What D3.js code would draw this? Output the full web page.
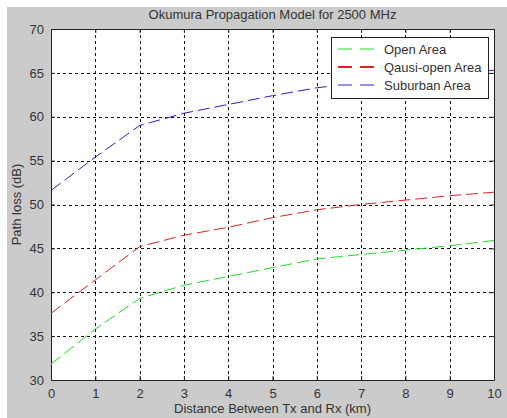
<!DOCTYPE html>
<html>
<head>
<meta charset="utf-8">
<script src="https://cdn.jsdelivr.net/npm/d3@7"></script>
<style>
body{margin:0;background:#fff;}
text{font-family:"Liberation Sans",Arial,sans-serif;}
</style>
</head>
<body>
<div id="chart"></div>
<script>
var W = 507, H = 418;
var margin = {t:29,l:51,b:38,r:13};
var width = W-margin.l-margin.r,
    height = H-margin.t-margin.b;

// data
var distance = [0,1,2,3,4,5,6,7,8,9,10];
var openArea = [31.8,35.8,39.3,40.8,41.8,42.8,43.8,44.3,44.8,45.3,45.9];
var quasiOpen = [37.6,41.4,45.2,46.5,47.4,48.5,49.4,50.0,50.5,51.0,51.4];
var suburban = [51.6,55.4,59.0,60.4,61.4,62.4,63.3,63.9,64.5,64.9,65.3];
var seriesNames = ["Open Area","Qausi-open Area","Suburban Area"];
var seriesColors = ["#22dd22","#dd2222","#2222cc"];
var xTicks = [0,1,2,3,4,5,6,7,8,9,10];
var yTicks = [30,35,40,45,50,55,60,65,70];

var svg = d3.select("#chart").append("svg")
    .attr("width",W).attr("height",H);

svg.append("rect")
    .attr("x",7).attr("y",7)
    .attr("width",W-7).attr("height",H-7)
    .attr("fill","#cbcbcb");

var x = d3.scaleLinear().domain([0,10]).range([0,width]);
var y = d3.scaleLinear().domain([30,70]).range([height,0]);

var g = svg.append("g")
    .attr("transform","translate("+margin.l+","+margin.t+")");

g.append("rect")
    .attr("width",width).attr("height",height)
    .attr("fill","#fff");

// grid
g.selectAll(".vgrid").data(xTicks.slice(1,-1)).enter().append("line")
    .attr("x1",function(d){return Math.round(x(d))+0.5;})
    .attr("x2",function(d){return Math.round(x(d))+0.5;})
    .attr("y1",0).attr("y2",height)
    .attr("stroke","#111").attr("stroke-dasharray","3,3");
g.selectAll(".hgrid").data(yTicks.slice(1,-1)).enter().append("line")
    .attr("y1",function(d){return Math.round(y(d))+0.5;})
    .attr("y2",function(d){return Math.round(y(d))+0.5;})
    .attr("x1",0).attr("x2",width)
    .attr("stroke","#111").attr("stroke-dasharray","3,3");

// axes
g.append("g")
    .attr("transform","translate(0,"+height+")")
    .call(d3.axisBottom(x).tickValues(xTicks).tickSizeInner(-4).tickSizeOuter(0).tickPadding(9));
g.append("g")
    .call(d3.axisLeft(y).tickValues(yTicks).tickSizeInner(-4).tickSizeOuter(0).tickPadding(7));
g.append("g")
    .call(d3.axisTop(x).tickValues(xTicks).tickSizeInner(-4).tickSizeOuter(0).tickFormat(""));
g.append("g")
    .attr("transform","translate("+width+",0)")
    .call(d3.axisRight(y).tickValues(yTicks).tickSizeInner(-4).tickSizeOuter(0).tickFormat(""));
g.selectAll(".domain").attr("stroke","#222");
g.selectAll(".tick line").attr("stroke","#222");
g.selectAll(".tick text").attr("font-size","13px").attr("fill","#333")
    .attr("font-family","\"Liberation Sans\",Arial,sans-serif");

// lines
var series = [openArea,quasiOpen,suburban];
var line = d3.line()
    .x(function(d,i){return x(distance[i]);})
    .y(function(d){return y(d);});
series.forEach(function(s,i){
    g.append("path")
        .attr("d",line(s))
        .attr("fill","none")
        .attr("stroke",seriesColors[i])
        .attr("stroke-width",1)
        .attr("stroke-dasharray","12,5");
});

// legend
var lg = g.append("g").attr("transform","translate(280,8)");
lg.append("rect")
    .attr("x",0.5).attr("y",0.5)
    .attr("width",157).attr("height",61)
    .attr("fill","#fff").attr("stroke","#222");
seriesNames.forEach(function(n,i){
    var yy = 12+i*18;
    lg.append("line")
        .attr("x1",7).attr("x2",47).attr("y1",yy).attr("y2",yy)
        .attr("stroke",seriesColors[i]).attr("stroke-width",i==1?2:1)
        .attr("stroke-dasharray","14,8");
    lg.append("text")
        .attr("x",53).attr("y",yy+4.5)
        .attr("font-size","13px").attr("fill","#333")
        .text(n);
});

// titles
svg.append("text")
    .attr("x",margin.l+width/2).attr("y",19)
    .attr("text-anchor","middle").attr("font-size","13px").attr("fill","#333")
    .text("Okumura Propagation Model for 2500 MHz");
svg.append("text")
    .attr("x",margin.l+width/2).attr("y",413)
    .attr("text-anchor","middle").attr("font-size","13px").attr("fill","#333")
    .text("Distance Between Tx and Rx (km)");
svg.append("text")
    .attr("transform","translate(21,"+(margin.t+height/2)+") rotate(-90)")
    .attr("text-anchor","middle").attr("font-size","13px").attr("fill","#333")
    .text("Path loss (dB)");
</script>
</body>
</html>
